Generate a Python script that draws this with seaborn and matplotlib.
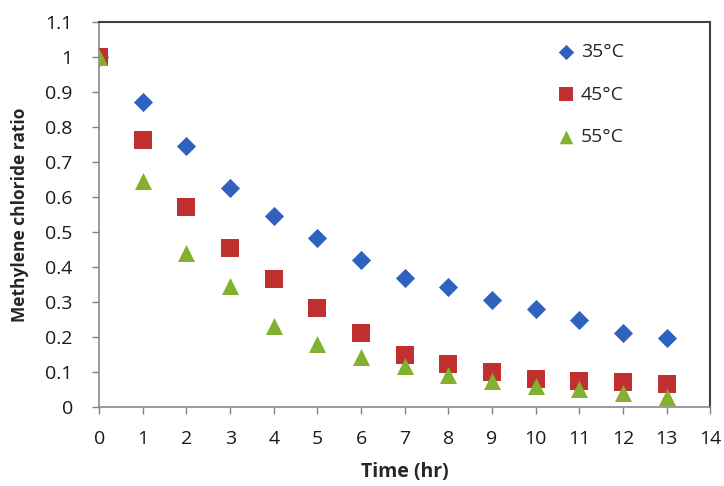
import numpy as np
import pandas as pd
import matplotlib
matplotlib.use("Agg")
import matplotlib.pyplot as plt
import seaborn as sns

# data
time_hr = list(range(0, 14))
ratio_35 = [1.0, 0.87, 0.745, 0.625, 0.545, 0.483, 0.42, 0.368, 0.343, 0.306, 0.28, 0.249, 0.21, 0.197]
ratio_45 = [1.0, 0.762, 0.57, 0.455, 0.366, 0.283, 0.211, 0.149, 0.123, 0.1, 0.08, 0.075, 0.07, 0.065]
ratio_55 = [1.0, 0.645, 0.44, 0.345, 0.23, 0.178, 0.142, 0.116, 0.092, 0.074, 0.06, 0.05, 0.04, 0.027]
labels = ["35\u00b0C", "45\u00b0C", "55\u00b0C"]

df = pd.DataFrame({
    "time": time_hr * 3,
    "ratio": ratio_35 + ratio_45 + ratio_55,
    "temp": [labels[0]] * 14 + [labels[1]] * 14 + [labels[2]] * 14,
})

sns.set_style("white")
plt.rcParams["font.family"] = ["Open Sans", "DejaVu Sans"]

fig = plt.figure(figsize=(7.24, 4.86), dpi=100)
ax = fig.add_axes([0.137, 0.163, 0.844, 0.792])

palette = {labels[0]: "#2F62BE", labels[1]: "#C0302F", labels[2]: "#82B130"}
markers = {labels[0]: "D", labels[1]: "s", labels[2]: "^"}
sizes = {labels[0]: 95, labels[1]: 150, labels[2]: 150}

for lab in labels:
    sub = df[df["temp"] == lab]
    sns.scatterplot(data=sub, x="time", y="ratio", color=palette[lab],
                    marker=markers[lab], s=sizes[lab], linewidth=0,
                    label=lab, ax=ax, zorder=3)

ax.set_xlim(0, 14)
ax.set_ylim(0, 1.1)
ax.set_xticks(range(0, 15))
yt = np.round(np.arange(0, 1.11, 0.1), 1)
ax.set_yticks(yt)
ax.set_yticklabels([f"{v:g}" for v in yt])
ax.tick_params(axis="both", direction="out", length=5, width=1, color="#808080",
               labelsize=14, labelcolor="#1a1a1a", left=True, bottom=True)
ax.tick_params(axis="x", pad=12)
ax.tick_params(axis="y", pad=14)
for side in ["left", "bottom"]:
    ax.spines[side].set_color("#8a8a8a")
    ax.spines[side].set_linewidth(1.2)
for side in ["top", "right"]:
    ax.spines[side].set_color("#404040")
    ax.spines[side].set_linewidth(1.5)

ax.set_xlabel("Time (hr)", fontsize=14, fontweight="bold", labelpad=10)
ax.set_ylabel("Methylene chloride ratio", fontsize=12.5, fontweight="bold", labelpad=12)

leg = ax.legend(loc="upper left", bbox_to_anchor=(0.72, 0.99), frameon=False,
                fontsize=14, labelspacing=1.25, handlelength=1.0,
                handletextpad=0.25, markerscale=0.8)

fig.savefig("out.png", dpi=100)
